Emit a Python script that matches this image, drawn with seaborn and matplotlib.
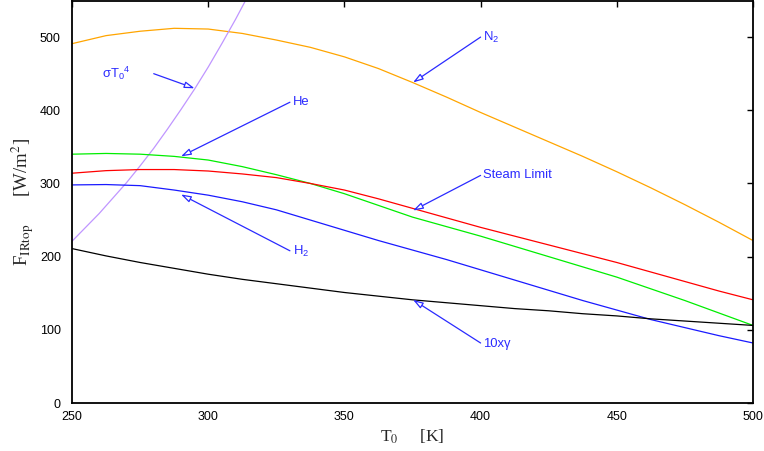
import numpy as np
import pandas as pd
import matplotlib
matplotlib.use("Agg")
import matplotlib.pyplot as plt
import seaborn as sns

# ---- data ----
T = [250, 262.5, 275, 287.5, 300, 312.5, 325, 337.5, 350, 362.5, 375,
     387.5, 400, 412.5, 425, 437.5, 450, 462.5, 475, 487.5, 500]
n2 = [491, 502, 508, 512, 511, 505, 496, 486, 473, 457, 438,
      418, 397, 377, 357, 337, 316, 294, 271, 247, 222]
steam = [314, 317.5, 319, 319, 317, 313, 308, 300, 291, 279, 266,
         253, 240, 228, 216, 204, 192, 179, 166, 153, 141]
he = [340, 341, 340, 337, 332, 323, 312, 300, 286, 270, 254,
      241, 228, 214, 200, 186, 172, 156, 140, 123, 106]
h2 = [298, 298.5, 297, 291, 284, 275, 264, 250, 236, 222, 209,
      196, 182, 168, 154, 140, 127, 114, 103, 92, 82]
gamma10 = [211, 201, 192, 184, 176, 169, 163, 157, 151, 146, 141,
           137, 133, 129, 126, 122, 119, 115, 112, 109, 106]
T_sig = [250, 255, 260, 265, 270, 275, 280, 285, 290, 295, 300, 305, 310, 316]
sigT4 = [221, 240, 259, 280, 301, 324, 348, 374, 401, 429, 459, 491, 524, 566]

xticks = [250, 300, 350, 400, 450, 500]
yticks = [0, 100, 200, 300, 400, 500]

# annotations: (text, label xy, arrow tail xy, arrow head xy)
notes = [
    ("σT$_0$$^4$", (261, 450), (280, 450), (295, 430)),
    ("He", (331, 411), (330, 411), (290, 337)),
    ("N$_2$", (401, 500), (400, 500), (375.2, 438)),
    ("Steam Limit", (401, 311), (400, 311), (375.2, 263)),
    ("H$_2$", (331, 207), (330, 208), (290, 285)),
    ("10xγ", (401, 81), (400, 82), (375.2, 141)),
]

sns.set_theme(style="white")
plt.rcParams["font.family"] = ["Liberation Sans", "DejaVu Sans"]
plt.rcParams["mathtext.fontset"] = "custom"
plt.rcParams["mathtext.rm"] = "Liberation Sans"
plt.rcParams["mathtext.it"] = "Liberation Sans:italic"
plt.rcParams["mathtext.bf"] = "Liberation Sans:bold"

fig = plt.figure(figsize=(7.64, 4.51), dpi=100)
ax = fig.add_axes([72 / 764, 48 / 451, (753 - 72) / 764, 402.5 / 451])

lw = 0.9
sns.lineplot(x=T, y=n2, color="#ffa500", lw=lw, ax=ax)
sns.lineplot(x=T_sig, y=sigT4, color="#c096ff", lw=lw, ax=ax)
sns.lineplot(x=T, y=he, color="#00ee00", lw=lw, ax=ax)
sns.lineplot(x=T, y=steam, color="#ff0000", lw=lw, ax=ax)
sns.lineplot(x=T, y=h2, color="#1a1aff", lw=lw, ax=ax)
sns.lineplot(x=T, y=gamma10, color="#000000", lw=lw, ax=ax)

ax.set_xlim(250, 500)
ax.set_ylim(0, 550)
ax.set_xticks(xticks)
ax.set_yticks(yticks)
ax.tick_params(direction="in", length=4, width=1, top=True, right=True,
               labelsize=9, colors="black")
ax.tick_params(axis="x", pad=6)
ax.tick_params(axis="y", pad=8)
for s in ax.spines.values():
    s.set_color("black")
    s.set_linewidth(1.3)

blue = "#2a2aff"
for txt, lxy, txy, hxy in notes:
    ax.annotate("", xy=hxy, xytext=txy,
                arrowprops=dict(arrowstyle="-|>,head_length=0.5,head_width=0.16",
                                color=blue, fc="white", lw=0.9,
                                shrinkA=0, shrinkB=0))
    ax.text(lxy[0], lxy[1], txt, color=blue, fontsize=9.4, ha="left", va="center")

ax.set_xlabel(r"T$_0$     [K]", fontsize=12.5, family="Liberation Serif",
              math_fontfamily="stix", labelpad=3)
ax.set_ylabel(r"F$_{\mathrm{IRtop}}$      [W/m$^2$]", fontsize=13.5,
              family="Liberation Serif", math_fontfamily="stix", labelpad=3)

fig.savefig("out.png", dpi=100)
